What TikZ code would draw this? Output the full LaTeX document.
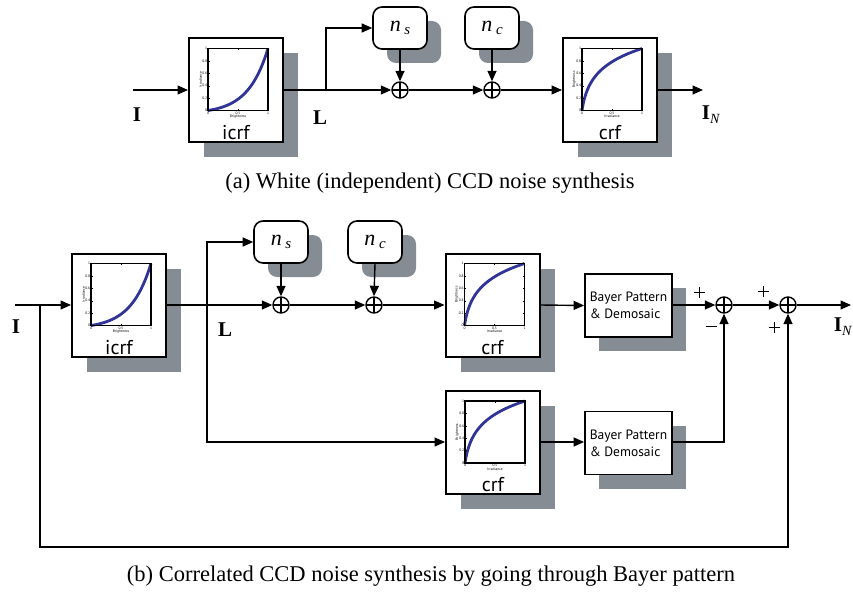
\documentclass[tikz,border=0pt]{standalone}
\usepackage{fontspec}
\setmainfont{Liberation Serif}
\newfontfamily\blocksans{PT Sans}
\usetikzlibrary{arrows.meta,shadows,calc}
\definecolor{shadowgray}{RGB}{134,140,147}
\definecolor{curveblue}{RGB}{48,52,150}
\tikzset{
  wire/.style={line width=1.4pt},
  sig/.style={wire,-{Triangle[length=10.5pt,width=9pt]}},
  castshadow/.style={general shadow={fill=shadowgray,shadow xshift=#1,shadow yshift=-#1}},
  castshadow/.default=15pt,
  funcbox/.style={draw,line width=2pt,fill=white,minimum width=94pt,minimum height=103pt,inner sep=0pt,castshadow},
  noisebox/.style={draw,line width=1.6pt,fill=white,rounded corners=9pt,minimum width=54pt,minimum height=42pt,inner sep=0pt,castshadow=14pt,font=\fontsize{22}{22}\selectfont\itshape},
  bayerbox/.style={draw,line width=1.8pt,fill=white,minimum width=87pt,minimum height=63pt,inner sep=0pt,align=left,castshadow=14pt,font=\blocksans\fontsize{13.5}{17}\selectfont},
  sumnode/.style={circle,draw,line width=1.4pt,fill=white,minimum size=16pt,inner sep=0pt,
    path picture={\draw[line width=1.2pt] (path picture bounding box.north) -- (path picture bounding box.south) (path picture bounding box.west) -- (path picture bounding box.east);}},
  fnname/.style={font=\blocksans\fontsize{20}{20}\selectfont,inner sep=0pt},
  sigmark/.style={font=\bfseries\fontsize{21}{21}\selectfont,inner sep=0pt},
  signmark/.style={font=\fontsize{16}{16}\selectfont,inner sep=0pt},
  caption/.style={font=\fontsize{22.5}{22.5}\selectfont,inner sep=0pt},
  ticklbl/.style={font=\blocksans\fontsize{3.6}{3.6}\selectfont,inner sep=0.5pt},
  % axes frame with ticks and labels, origin at the lower left corner
  pics/plotframe/.style 2 args={code={
    \begin{scope}[yscale=-1]
      \draw[line width=1.5pt] (0,0) rectangle (60,62);
      \foreach \v in {0,0.2,0.4,0.6,0.8,1}{
        \draw[line width=0.3pt] (0,62*\v) -- ++(1.5,0) (60,62*\v) -- ++(-1.5,0);
        \node[ticklbl,anchor=east] at (-0.3,62*\v) {\v};}
      \foreach \v in {0,0.5,1}{
        \draw[line width=0.3pt] (60*\v,0) -- ++(0,1.5) (60*\v,62) -- ++(0,-1.5);
        \node[ticklbl,anchor=north] at (60*\v,-0.5) {\v};}
      \node[ticklbl,anchor=north] at (30,-4) {#1};
      \node[ticklbl,anchor=south,rotate=90] at (-5.5,31) {#2};
    \end{scope}
  }},
  pics/icrfplot/.style={code={
    \draw[curveblue,line width=2.8pt] plot[smooth,samples=30,domain=0:1]
      ({60*\x},{-62*(exp(3*\x)-1)/(exp(3)-1)});
    \pic {plotframe={Brightness}{Irradiance}};
  }},
  pics/crfplot/.style={code={
    \draw[curveblue,line width=2.8pt] plot[smooth,samples=30,domain=0:1]
      ({60*(exp(3*\x)-1)/(exp(3)-1)},{-62*\x});
    \pic {plotframe={Irradiance}{Brightness}};
  }},
}
\newcommand\nsub[1]{\textit{n}\,\raisebox{-0.35ex}{\fontsize{15}{15}\selectfont\textit{#1}}}
\newcommand\outsig{\textbf{I}\raisebox{-0.4ex}{\fontsize{14}{14}\selectfont\mdseries\textit{N}}}
\newcommand\plusmark{\tikz[baseline=-0.5ex]\draw[line width=0.9pt] (-5.5pt,0) -- (5.5pt,0) (0,-5.5pt) -- (0,5.5pt);}
\newcommand\minusmark{\tikz[baseline=-0.5ex]\draw[line width=0.9pt] (-5.5pt,0) -- (5.5pt,0);}

\begin{document}
\begin{tikzpicture}[x=1pt,y=-1pt]
\useasboundingbox (0,0) rectangle (853,591);

% ---------- (a) white noise chain ----------
\coordinate (aIn) at (133,90);
\node[funcbox] (aIcrf) at (236,90) {};
\pic at ($(aIcrf.south west)+(20,-32)$) {icrfplot};
\node[fnname] (aIcrfName) at ($(aIcrf.south)+(0,-10)$) {icrf};
\coordinate (aL) at (326,90);
\node[noisebox] (aNs) at (400,28) {\nsub{s}};
\node[sumnode] (aS1) at (400,90) {};
\node[noisebox] (aNc) at (492,28) {\nsub{c}};
\node[sumnode] (aS2) at (492,90) {};
\node[funcbox] (aCrf) at (610,90) {};
\pic at ($(aCrf.south west)+(20,-32)$) {crfplot};
\node[fnname] (aCrfName) at ($(aCrf.south)+(0,-10)$) {crf};
\coordinate (aOut) at (703,90);

\node[sigmark] (aI) at (137,115) {I};
\node[sigmark] (aLl) at (320,118) {L};
\node[sigmark] (aIN) at (711,115) {\outsig};

\draw[sig] (aIn) -- (aIcrf.west);
\draw[sig] (aIcrf.east) -- (aS1.west);
\draw[sig] (aL) |- (aNs.west);
\draw[sig] (aNs.south) -- (aS1.north);
\draw[sig] (aS1.east) -- (aS2.west);
\draw[sig] (aNc.south) -- (aS2.north);
\draw[sig] (aS2.east) -- (aCrf.west);
\draw[sig] (aCrf.east) -- (aOut);

\node[caption] (capA) at (430,183) {(a) White (independent) CCD noise synthesis};

% ---------- (b) correlated noise chain ----------
\coordinate (bIn) at (15,305);
\coordinate (bTap) at (40,305);
\coordinate (bTapLow) at (40,547);
\coordinate (bBackCorner) at (788,547);
\node[funcbox] (bIcrf) at (119,305) {};
\pic at ($(bIcrf.south west)+(20,-32)$) {icrfplot};
\node[fnname] (bIcrfName) at ($(bIcrf.south)+(0,-10)$) {icrf};
\coordinate (bL) at (207,305);
\coordinate (bLLow) at (207,442);
\node[noisebox] (bNs) at (281,242) {\nsub{s}};
\node[sumnode] (bS1) at (281,305) {};
\node[noisebox] (bNc) at (375,242) {\nsub{c}};
\node[sumnode] (bS2) at (374,305) {};
\node[funcbox] (bCrf) at (492.5,305) {};
\pic at ($(bCrf.south west)+(20,-32)$) {crfplot};
\node[fnname] (bCrfName) at ($(bCrf.south)+(0,-10)$) {crf};
\node[bayerbox] (bBay) at (628.5,305.5) {Bayer Pattern\\\& Demosaic};
\node[sumnode] (bS3) at (724,305) {};
\node[sumnode] (bS4) at (788,305) {};
\coordinate (bOut) at (851,305);

\node[funcbox] (bCrfLow) at (493,442.5) {};
\pic at ($(bCrfLow.south west)+(20,-32)$) {crfplot};
\node[fnname] (bCrfLowName) at ($(bCrfLow.south)+(0,-10)$) {crf};
\node[bayerbox] (bBayLow) at (628.5,443) {Bayer Pattern\\\& Demosaic};

\node[sigmark] (bI) at (16,327) {I};
\node[sigmark] (bLl) at (225,330) {L};
\node[sigmark] (bIN) at (843,327) {\outsig};
\node[signmark] (pA) at (699,292) {\plusmark};
\node[signmark] (mA) at (711,328) {\minusmark};
\node[signmark] (pB) at (763,291) {\plusmark};
\node[signmark] (pC) at (774,327) {\plusmark};

\draw[sig] (bIn) -- (bIcrf.west);
\draw[sig] (bTap) -- (bTapLow) -- (bBackCorner) -- (bS4.south);
\draw[sig] (bIcrf.east) -- (bS1.west);
\draw[sig] (bL) |- (bNs.west);
\draw[sig] (bNs.south) -- (bS1.north);
\draw[sig] (bS1.east) -- (bS2.west);
\draw[sig] (bNc.south) -- (bS2.north);
\draw[sig] (bS2.east) -- (bCrf.west);
\draw[sig] (bCrf.east) -- (bBay.west);
\draw[sig] (bBay.east |- bS3) -- (bS3.west);
\draw[sig] (bS3.east) -- (bS4.west);
\draw[sig] (bS4.east) -- (bOut);
\draw[sig] (bL) -- (bLLow) -- (bCrfLow.west |- bLLow);
\draw[sig] (bCrfLow.east |- bLLow) -- (bBayLow.west |- bLLow);
\draw[sig] (bBayLow.east |- bLLow) -| (bS3.south);

\node[caption] (capB) at (431,576) {(b) Correlated CCD noise synthesis by going through Bayer pattern};
\end{tikzpicture}
\end{document}
